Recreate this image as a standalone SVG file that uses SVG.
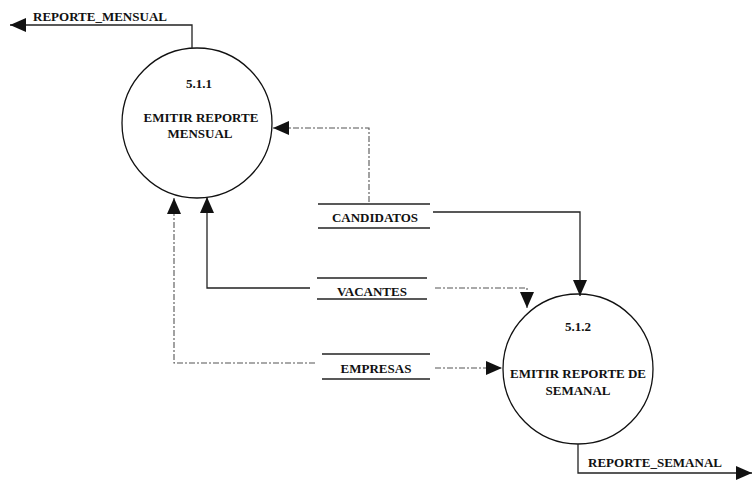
<svg xmlns="http://www.w3.org/2000/svg" width="753" height="485" viewBox="0 0 753 485">
<style>
text{font-family:"Liberation Serif","Times New Roman",serif;font-weight:bold;font-size:13px;fill:#111;text-anchor:middle}
.proc{fill:none;stroke:#111;stroke-width:1.3}
.store{stroke:#222;stroke-width:1.4}
.flow{fill:none;stroke:#222;stroke-width:1.3}
.dot{fill:none;stroke:#555;stroke-width:1.1;stroke-dasharray:6 2 2 2}
</style>
<defs>
<marker id="ah" viewBox="0 0 16 14" refX="16" refY="7" markerWidth="16" markerHeight="14" markerUnits="userSpaceOnUse" orient="auto">
<path d="M0,0 L16,7 L0,14 Z" fill="#111"/>
</marker>
</defs>
<g id="p511">
<circle class="proc" cx="197" cy="123" r="75"/>
<text x="199" y="88" font-size="11.5">5.1.1</text>
<text x="201" y="122" font-size="12">EMITIR REPORTE</text>
<text x="200" y="138" font-size="12">MENSUAL</text>
</g>
<g id="p512">
<circle class="proc" cx="578" cy="369" r="75"/>
<text x="578" y="331" font-size="11.5">5.1.2</text>
<text x="578" y="378" font-size="12">EMITIR REPORTE DE</text>
<text x="578" y="395" font-size="12">SEMANAL</text>
</g>
<g id="candidatos">
<line class="store" x1="318" y1="204" x2="430" y2="204"/>
<line class="store" x1="318" y1="228" x2="430" y2="228"/>
<text x="375" y="222">CANDIDATOS</text>
</g>
<g id="vacantes">
<line class="store" x1="317" y1="278" x2="427" y2="278"/>
<line class="store" x1="317" y1="299" x2="427" y2="299"/>
<text x="372" y="296">VACANTES</text>
</g>
<g id="empresas">
<line class="store" x1="322" y1="354" x2="430" y2="354"/>
<line class="store" x1="322" y1="379" x2="430" y2="379"/>
<text x="376" y="373">EMPRESAS</text>
</g>
<g id="connectors">
<polyline class="flow" points="192,48 192,25 10,25" marker-end="url(#ah)"/>
<text x="100" y="21">REPORTE_MENSUAL</text>
<polyline class="dot" points="369,202 369,128 273,128" marker-end="url(#ah)"/>
<polyline class="flow" points="310,288 207,288 207,197" marker-end="url(#ah)"/>
<polyline class="dot" points="315,363 174,363 174,198" marker-end="url(#ah)"/>
<polyline class="flow" points="433,212 580,212 580,296" marker-end="url(#ah)"/>
<polyline class="dot" points="435,288 527,288 527,308" marker-end="url(#ah)"/>
<polyline class="dot" points="435,368 502,368" marker-end="url(#ah)"/>
<polyline class="flow" points="578,444 578,473 752,473" marker-end="url(#ah)"/>
<text x="655" y="467">REPORTE_SEMANAL</text>
</g>
</svg>
